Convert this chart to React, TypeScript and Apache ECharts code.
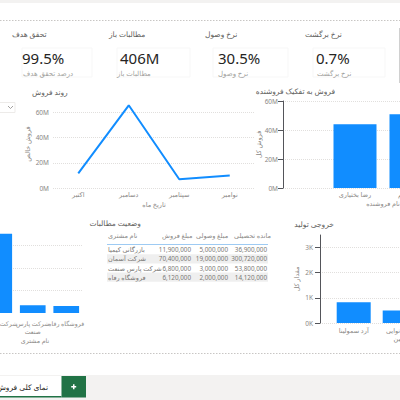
import React, { useEffect, useRef } from "react";
import * as echarts from "echarts";

const months = ["اکتبر", "دسامبر", "سپتامبر", "نوامبر"];
const monthSales = [11.7e6, 65.8e6, 7.0e6, 9.9e6];
const sellers = ["رضا بختیاری", "علی کریم"];
const sellerSales = [44e6, 50.8e6];
const customers = ["بازرگانی کیمیا", "شرکت آسمان", "شرکت پارس صنعت", "فروشگاه رفاه"];
const customerSales = [11900000, 70400000, 6800000, 6120000];
const customerPaid = [5000000, 19000000, 3000000, 2000000];
const customerBalance = [36900000, 300720000, 53800000, 14120000];
const products = ["آرد سمولینا", "آرد نانوایی گلین"];
const productOutput = [830, 500];
const kpiTitles = ["تحقق هدف", "مطالبات باز", "نرخ وصول", "نرخ برگشت"];
const kpiValues = ["99.5%", "406M", "30.5%", "0.7%"];
const kpiLabels = ["درصد تحقق هدف", "مطالبات باز", "نرخ وصول", "نرخ برگشت"];
const tableHeaders = ["نام مشتری", "مبلغ فروش", "مبلغ وصولی", "مانده تحصیلی"];
const tabName = "نمای کلی فروش";

const FONT = "'Noto Sans', 'DejaVu Sans', sans-serif";
const BLUE = "#118DFF";
const LABEL = "#8a8886";
const GRID_LINE = { show: true, lineStyle: { color: "#e1dfdd", type: "dotted" as const, width: 1 } };

const fmtM = (v: number) => `${Math.round(v / 1e6)}M`;
const fmtK = (v: number) => `${Math.round(v / 1000)}K`;
const fmtN = (v: number) => v.toLocaleString("en-US");
// wrap labels of three or more words after the second word
const wrap2 = (s: any) => {
  const w = String(s).split(/[\s\u00a0\u200c]+/);
  return w.length >= 3 ? w.slice(0, 2).join(" ") + "\n" + w.slice(2).join(" ") : String(s);
};

export default function App() {
  const ref = useRef<HTMLDivElement>(null);
  useEffect(() => {
    if (!ref.current) return;
    const chart = echarts.init(ref.current, undefined, { renderer: "svg" });

    const txt = (x: number, y: number, text: string, o: any = {}) => ({
      type: "text",
      x,
      y,
      silent: true,
      style: {
        text,
        fontFamily: FONT,
        fontSize: o.fontSize ?? 7,
        fill: o.fill ?? "#605e5c",
        align: o.align ?? "left",
        verticalAlign: "middle",
        fontWeight: o.fontWeight ?? "normal",
      },
      z: 10,
    });

    const g: any[] = [];
    // top strip and separators
    g.push({ type: "rect", shape: { x: 0, y: 0, width: 400, height: 3 }, style: { fill: "#f3f2f1" } });
    g.push({ type: "line", shape: { x1: 0, y1: 20.5, x2: 400, y2: 20.5 }, style: { stroke: "#c8c6c4", lineDash: [1.5, 1.5], lineWidth: 1 } });
    g.push({ type: "line", shape: { x1: 0, y1: 353.5, x2: 400, y2: 353.5 }, style: { stroke: "#c8c6c4", lineDash: [1.5, 1.5], lineWidth: 1 } });
    g.push({ type: "line", shape: { x1: 399.5, y1: 28, x2: 399.5, y2: 83 }, style: { stroke: "#d0d0d0", lineWidth: 1 } });

    // KPI cards
    const kpiTitleX = [12, 109, 205, 305];
    const kpiValX = [22, 120, 218, 316];
    const kpiSubX = [23, 117, 218, 317];
    const kpiBox = [[22, 70], [117, 73], [213, 75], [313, 72]];
    kpiTitles.forEach((t, i) => {
      g.push({ type: "rect", shape: { x: kpiBox[i][0], y: 48, width: kpiBox[i][1], height: 29 }, style: { fill: "none", stroke: "#f7f7f7", lineWidth: 1 } });
      g.push(txt(kpiTitleX[i], 33.5, t, { fontSize: 7.5, fill: "#605e5c" }));
      g.push(txt(kpiValX[i], 58, kpiValues[i], { fontSize: 15, fill: "#252423" }));
      g.push(txt(kpiSubX[i], 73, kpiLabels[i], { fontSize: 7, fill: "#a19f9d" }));
    });

    // slicer dropdown at left
    g.push({ type: "rect", shape: { x: -5, y: 102.5, width: 20, height: 10 }, style: { fill: "#fff", stroke: "#edebe9", lineWidth: 1 } });
    g.push({ type: "polyline", shape: { points: [[8, 106], [10.5, 108.5], [13, 106]] }, style: { stroke: "#8a8886", fill: "none", lineWidth: 0.8 } });

    // chart titles
    g.push(txt(32, 92, "روند فروش", { fontSize: 7.5, fill: "#605e5c" }));
    g.push(txt(335, 91, "فروش به تفکیک فروشنده", { fontSize: 7.5, fill: "#605e5c", align: "right" }));
    g.push(txt(141, 222.5, "وضعیت مطالبات", { fontSize: 7.5, fill: "#605e5c", align: "right" }));
    g.push(txt(334, 224, "خروجی تولید", { fontSize: 7.5, fill: "#605e5c", align: "right" }));
    g.push(txt(35, 340, "نام مشتری", { fontSize: 6.3, fill: LABEL, align: "center" }));

    // table
    const colHeadX = [108, 162, 196, 234];
    const colValX = [191, 228, 267];
    tableHeaders.forEach((h, i) => g.push(txt(colHeadX[i], 235.5, h, { fontSize: 6.5, fill: "#8a8886" })));
    g.push({ type: "line", shape: { x1: 107, y1: 244.5, x2: 268, y2: 244.5 }, style: { stroke: "#9ecbf3", lineWidth: 1 } });
    customers.forEach((c, r) => {
      const yTop = 245 + r * 9.2;
      if (r % 2 === 1) g.push({ type: "rect", shape: { x: 107, y: yTop, width: 161, height: 9.2 }, style: { fill: "#efefef" } });
      const yc = yTop + 4.6;
      g.push(txt(108, yc, c, { fontSize: 6.5, fill: "#7a7876" }));
      g.push(txt(colValX[0], yc, fmtN(customerSales[r]), { fontSize: 6.3, fill: "#7a7876", align: "right" }));
      g.push(txt(colValX[1], yc, fmtN(customerPaid[r]), { fontSize: 6.3, fill: "#7a7876", align: "right" }));
      g.push(txt(colValX[2], yc, fmtN(customerBalance[r]), { fontSize: 6.3, fill: "#7a7876", align: "right" }));
    });

    // bottom tab bar
    g.push({ type: "rect", shape: { x: 0, y: 375, width: 400, height: 25 }, style: { fill: "#f3f2f1" } });
    g.push({ type: "rect", shape: { x: 0, y: 376, width: 61.5, height: 21 }, style: { fill: "#ffffff" } });
    g.push({ type: "rect", shape: { x: 0, y: 396, width: 61.5, height: 1.5 }, style: { fill: "#217346" } });
    g.push({ type: "rect", shape: { x: 61.5, y: 376, width: 24.5, height: 21.5 }, style: { fill: "#217346" } });
    g.push({ type: "rect", shape: { x: 71.2, y: 386, width: 5, height: 1.5 }, style: { fill: "#fff" } });
    g.push({ type: "rect", shape: { x: 73, y: 384.2, width: 1.5, height: 5 }, style: { fill: "#fff" } });
    g.push(txt(48, 387, tabName, { fontSize: 7.5, fill: "#252423", align: "right" }));

    const axisText = { color: LABEL, fontSize: 6.5, fontFamily: FONT };
    const nameText = { color: LABEL, fontSize: 6.5, fontFamily: FONT };
    const hiddenAxis = { axisLine: { show: false }, axisTick: { show: false }, axisLabel: { show: false }, splitLine: { show: false } };
    const G = { outerBoundsMode: "none", containLabel: false };

    const option: any = {
      animation: false,
      backgroundColor: "#ffffff",
      textStyle: { fontFamily: FONT },
      grid: [
        { ...G, left: 53, right: 145, top: 100, bottom: 212 },
        { ...G, left: 283, right: -83, top: 101, bottom: 212 },
        { ...G, left: 327, right: -39, top: 101, bottom: 212 },
        { ...G, left: -51, right: 317, top: 223, bottom: 87 },
        { ...G, left: 320, right: -80, top: 235, bottom: 77 },
        { ...G, left: 330.7, right: -22.7, top: 235, bottom: 77 },
      ],
      xAxis: [
        {
          gridIndex: 0, type: "category", data: months,
          axisLine: { show: false }, axisTick: { show: false },
          axisLabel: { ...axisText, margin: 3 },
          name: "تاریخ ماه", nameLocation: "middle", nameGap: 13, nameTextStyle: nameText, nameMoveOverlap: false,
        },
        { gridIndex: 1, type: "value", min: 0, max: 1, ...hiddenAxis, name: "نام فروشنده", nameLocation: "middle", nameGap: 12, nameTextStyle: nameText, nameMoveOverlap: false },
        {
          gridIndex: 2, type: "category", data: sellers,
          axisLine: { show: false }, axisTick: { show: false },
          axisLabel: { ...axisText, margin: 3, interval: 0 },
        },
        {
          gridIndex: 3, type: "category", data: customers,
          axisLine: { show: false }, axisTick: { show: false },
          axisLabel: { ...axisText, fontSize: 6.2, margin: 6, interval: 0, lineHeight: 8, formatter: (v: any) => wrap2(v), hideOverlap: false },
        },
        { gridIndex: 4, type: "value", min: 0, max: 1, ...hiddenAxis },
        {
          gridIndex: 5, type: "category", data: products,
          axisLine: { show: false }, axisTick: { show: false },
          axisLabel: { ...axisText, margin: 3, interval: 0, lineHeight: 8, formatter: (v: any) => wrap2(v), hideOverlap: false },
        },
      ],
      yAxis: [
        {
          gridIndex: 0, type: "value", min: 0, max: 70e6, interval: 20e6,
          axisLabel: { ...axisText, formatter: fmtM, margin: 4, showMaxLabel: false },
          splitLine: { ...GRID_LINE, showMaxLine: false },
          name: "فروش خالص", nameLocation: "middle", nameGap: 22, nameTextStyle: nameText, nameMoveOverlap: false,
        },
        {
          gridIndex: 1, type: "value", min: 0, max: 60e6, interval: 20e6,
          axisLabel: { ...axisText, formatter: fmtM, margin: 5 },
          splitLine: GRID_LINE,
          name: "فروش کل", nameLocation: "middle", nameGap: 21, nameTextStyle: nameText, nameMoveOverlap: false,
        },
        { gridIndex: 2, type: "value", min: 0, max: 60e6, ...hiddenAxis },
        {
          gridIndex: 3, type: "value", min: 0, max: 80e6, interval: 20e6,
          axisLabel: { show: false },
          splitLine: { ...GRID_LINE, showMaxLine: false, showMinLine: false },
        },
        {
          gridIndex: 4, type: "value", min: 0, max: 3500, interval: 1000,
          axisLabel: { ...axisText, formatter: fmtK, margin: 7, showMaxLabel: false },
          splitLine: { ...GRID_LINE, showMaxLine: false },
          name: "مقدار کل", nameLocation: "middle", nameGap: 20, nameTextStyle: nameText, nameMoveOverlap: false,
        },
        { gridIndex: 5, type: "value", min: 0, max: 3500, ...hiddenAxis },
      ],
      series: [
        {
          type: "line", xAxisIndex: 0, yAxisIndex: 0, data: monthSales,
          symbol: "none", lineStyle: { color: BLUE, width: 2 }, itemStyle: { color: BLUE },
        },
        { type: "bar", xAxisIndex: 2, yAxisIndex: 2, data: sellerSales, barWidth: 43, itemStyle: { color: BLUE } },
        { type: "bar", xAxisIndex: 3, yAxisIndex: 3, data: customerSales, barWidth: 25.7, itemStyle: { color: BLUE } },
        { type: "bar", xAxisIndex: 5, yAxisIndex: 5, data: productOutput, barWidth: 34, itemStyle: { color: BLUE } },
      ],
      graphic: g,
    };
    chart.setOption(option);
    return () => chart.dispose();
  }, []);

  return (
    <div
      ref={ref}
      style={{ position: "fixed", left: 0, top: 0, width: 400, height: 400, overflow: "hidden", background: "#fff" }}
    />
  );
}
